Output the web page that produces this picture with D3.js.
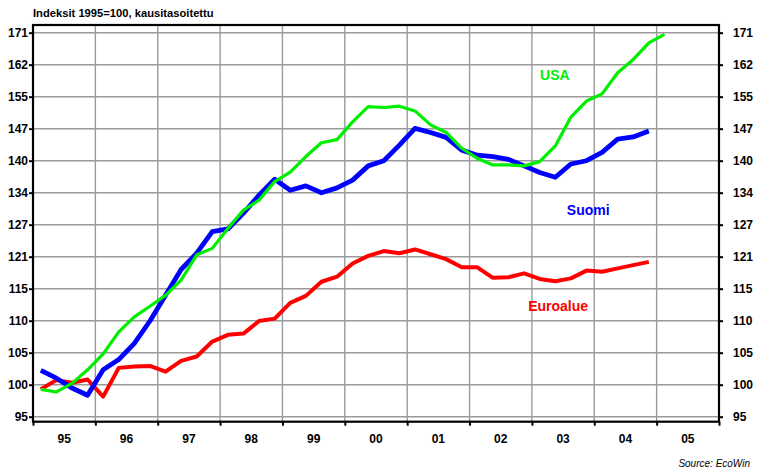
<!DOCTYPE html>
<html>
<head>
<meta charset="utf-8">
<script src="https://cdn.jsdelivr.net/npm/d3@7"></script>
<style>
  body { margin: 0; background: #fff; }
  svg { font-family: "Liberation Sans", Arial, sans-serif; }
</style>
</head>
<body>
<div id="chartDiv"></div>
<script>
// Quarterly series, first point = 1995 Q1
var firstYear = 1995;
var suomi = [102.2, 101.0, 99.5, 98.4, 102.3, 103.9, 106.5, 110.2,
             114.6, 119.2, 122.2, 126.3, 126.8, 129.9, 133.5, 136.8,
             134.5, 135.4, 134.0, 135.0, 136.6, 139.6, 140.7, 144.1,
             147.8, 146.9, 145.8, 143.0, 141.9, 141.6, 141.0, 139.6,
             138.2, 137.2, 140.0, 140.7, 142.5, 145.4, 145.9, 147.2];
var usa = [99.3, 98.9, 100.2, 102.3, 104.8, 108.4, 110.9, 112.7,
           114.6, 117.3, 121.9, 123.1, 126.9, 130.5, 132.5, 136.3,
           138.3, 141.6, 144.6, 145.3, 149.3, 152.8, 152.6, 152.9,
           151.8, 148.6, 146.9, 143.4, 141.2, 139.8, 139.8, 139.6,
           140.5, 143.9, 150.4, 154.1, 155.8, 160.9, 164.2, 168.4, 170.6];
var euroalue = [99.3, 100.7, 100.3, 100.8, 98.2, 102.6, 102.8, 102.9,
                102.0, 103.7, 104.4, 106.8, 107.9, 108.1, 110.2, 110.6,
                113.3, 114.5, 117.0, 117.9, 120.3, 121.7, 122.6, 122.2,
                122.9, 122.0, 121.1, 119.6, 119.6, 117.7, 117.8, 118.5,
                117.5, 117.1, 117.6, 119.0, 118.8, 119.4, 120.0, 120.6];

// y axis: 5% steps on a log scale, labels as printed
var yTickSteps = [-1, 0, 1, 2, 3, 4, 5, 6, 7, 8, 9, 10, 11];
var yTickLabels = ["95", "100", "105", "110", "115", "121", "127", "134", "140", "147", "155", "162", "171"];
var xYears = [1995, 1996, 1997, 1998, 1999, 2000, 2001, 2002, 2003, 2004, 2005];
var xYearLabels = ["95", "96", "97", "98", "99", "00", "01", "02", "03", "04", "05"];

var W = 758, H = 473;
var plotLeft = 33, plotRight = 719, plotTop = 25, plotBottom = 421.7;

var x = d3.scaleLinear().domain([1995, 2006]).range([plotLeft, plotRight]);
var y = d3.scaleLog()
    .domain([100 * Math.pow(1.05, -1.156), 100 * Math.pow(1.05, 11.24)])
    .range([plotBottom, plotTop]);
var yTicks = yTickSteps.map(function(k) { return 100 * Math.pow(1.05, k); });

var svg = d3.select("#chartDiv").append("svg")
    .attr("width", W)
    .attr("height", H);

// title
svg.append("text")
    .attr("x", 33)
    .attr("y", 16.5)
    .attr("font-size", 11.2)
    .attr("font-weight", "bold")
    .text("Indeksit 1995=100, kausitasoitettu");

// gridlines
svg.append("g").selectAll("line")
    .data(yTicks)
    .enter()
    .append("line")
    .attr("x1", plotLeft).attr("x2", plotRight)
    .attr("y1", function(d) { return y(d); })
    .attr("y2", function(d) { return y(d); })
    .attr("stroke", "#9a9a9a")
    .attr("stroke-width", 1.4);

svg.append("g").selectAll("line")
    .data(xYears.slice(1))
    .enter()
    .append("line")
    .attr("x1", function(d) { return x(d); })
    .attr("x2", function(d) { return x(d); })
    .attr("y1", plotTop).attr("y2", plotBottom)
    .attr("stroke", "#9a9a9a")
    .attr("stroke-width", 1.4);

// axes (library axes, labels from arrays)
var yLabel = function(d, i) { return yTickLabels[i]; };
var leftAxis = svg.append("g")
    .attr("transform", "translate(" + plotLeft + ",0)")
    .call(d3.axisLeft(y).tickValues(yTicks).tickFormat(yLabel).tickSize(4).tickPadding(1));
var rightAxis = svg.append("g")
    .attr("transform", "translate(" + plotRight + ",0)")
    .call(d3.axisRight(y).tickValues(yTicks).tickFormat(yLabel).tickSize(4).tickPadding(10));
var bottomAxis = svg.append("g")
    .attr("transform", "translate(0," + plotBottom + ")")
    .call(d3.axisBottom(x).tickValues(xYears.concat([2006])).tickFormat("").tickSize(4));

[leftAxis, rightAxis, bottomAxis].forEach(function(a) {
    a.select(".domain").remove();
    a.selectAll(".tick line").attr("stroke", "#000").attr("stroke-width", 2);
    a.selectAll("text")
        .attr("font-family", "Liberation Sans, Arial, sans-serif")
        .attr("font-size", 12)
        .attr("font-weight", "bold")
        .attr("fill", "#000");
});

// year labels centred in each year
svg.append("g").selectAll("text")
    .data(xYears)
    .enter()
    .append("text")
    .attr("x", function(d) { return x(d + 0.5); })
    .attr("y", 443)
    .attr("text-anchor", "middle")
    .attr("font-size", 12)
    .attr("font-weight", "bold")
    .text(function(d, i) { return xYearLabels[i]; });

// frame
svg.append("rect")
    .attr("x", plotLeft).attr("y", plotTop)
    .attr("width", plotRight - plotLeft).attr("height", plotBottom - plotTop)
    .attr("fill", "none")
    .attr("stroke", "#000")
    .attr("stroke-width", 2.2);

// series lines
var line = d3.line()
    .x(function(d, i) { return x(firstYear + (i + 0.5) / 4); })
    .y(function(d) { return y(d); });

var series = [
    { values: euroalue, color: "#ff0000", width: 4 },
    { values: suomi, color: "#0000ff", width: 4.8 },
    { values: usa, color: "#00ee00", width: 3.2 }
];
svg.append("g").selectAll("path")
    .data(series)
    .enter()
    .append("path")
    .attr("d", function(d) { return line(d.values); })
    .attr("fill", "none")
    .attr("stroke", function(d) { return d.color; })
    .attr("stroke-width", function(d) { return d.width; })
    .attr("stroke-linejoin", "round");

// series labels
var labels = [
    { text: "USA", color: "#00ee00", year: 2003.13, value: 159.2 },
    { text: "Suomi", color: "#0000ff", year: 2003.56, value: 129.5 },
    { text: "Euroalue", color: "#ff0000", year: 2002.94, value: 111.9 }
];
svg.append("g").selectAll("text")
    .data(labels)
    .enter()
    .append("text")
    .attr("x", function(d) { return x(d.year); })
    .attr("y", function(d) { return y(d.value); })
    .attr("fill", function(d) { return d.color; })
    .attr("font-size", 14)
    .attr("font-weight", "bold")
    .text(function(d) { return d.text; });

// source
svg.append("text")
    .attr("x", 750)
    .attr("y", 467)
    .attr("text-anchor", "end")
    .attr("font-size", 10)
    .attr("font-style", "italic")
    .text("Source: EcoWin");
</script>
</body>
</html>
